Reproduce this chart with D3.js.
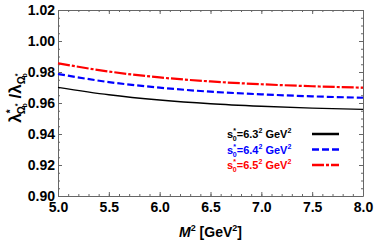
<!DOCTYPE html>
<html>
<head>
<meta charset="utf-8">
<script src="https://cdn.jsdelivr.net/npm/d3@7"></script>
<style>
  body { margin: 0; background: #fff; }
  text { font-family: "Liberation Sans", Arial, sans-serif; font-weight: bold; }
</style>
</head>
<body>
<div id="chart"></div>
<script>
// M^2 values (GeV^2)
var msq = [5.0, 5.5, 6.0, 6.5, 7.0, 7.5, 8.0];
// ratio for the three threshold choices
var ratio63 = [0.9701, 0.9653, 0.9619, 0.9595, 0.9579, 0.9567, 0.9559];
var ratio64 = [0.9787, 0.9735, 0.9699, 0.9673, 0.9656, 0.9643, 0.9634];
var ratio65 = [0.9856, 0.9803, 0.9765, 0.9739, 0.9721, 0.9708, 0.9699];
var seriesNames = ["6.3", "6.4", "6.5"];
var xTicks = [5.0, 5.5, 6.0, 6.5, 7.0, 7.5, 8.0];
var yTicks = [0.90, 0.92, 0.94, 0.96, 0.98, 1.00, 1.02];

var width = 374, height = 241;
var margin = {top: 10, right: 11, bottom: 45, left: 58};

var svg = d3.select("#chart").append("svg")
    .attr("width", width)
    .attr("height", height);

var x = d3.scaleLinear().domain([5, 8]).range([margin.left, width - margin.right]);
var y = d3.scaleLinear().domain([0.90, 1.02]).range([height - margin.bottom, margin.top]);

var frameColor = "#666";

// minor ticks, all four sides
var xMinor = d3.range(5.0, 8.001, 0.1);
var yMinor = d3.range(0.90, 1.0201, 0.005);
function minorAxis(axis, vals, tr) {
    var g = svg.append("g").attr("transform", tr)
        .call(axis.tickValues(vals).tickSize(-2).tickFormat(""));
    g.select(".domain").remove();
    g.selectAll("line").attr("stroke", frameColor);
}
minorAxis(d3.axisBottom(x), xMinor, "translate(0," + y(0.90) + ")");
minorAxis(d3.axisTop(x), xMinor, "translate(0," + y(1.02) + ")");
minorAxis(d3.axisLeft(y), yMinor, "translate(" + x(5) + ",0)");
minorAxis(d3.axisRight(y), yMinor, "translate(" + x(8) + ",0)");

// major ticks
var gx = svg.append("g").attr("transform", "translate(0," + y(0.90) + ")")
    .call(d3.axisBottom(x).tickValues(xTicks).tickSizeInner(-4).tickSizeOuter(0)
        .tickPadding(6).tickFormat(d3.format(".1f")));
gx.selectAll("text").attr("font-size", 14).attr("fill", "#000")
    .attr("font-family", "Liberation Sans, Arial, sans-serif").attr("font-weight", "bold");

var gy = svg.append("g").attr("transform", "translate(" + x(5) + ",0)")
    .call(d3.axisLeft(y).tickValues(yTicks).tickSizeInner(-4).tickSizeOuter(0)
        .tickPadding(3).tickFormat(d3.format(".2f")));
gy.selectAll("text").attr("font-size", 14).attr("fill", "#000")
    .attr("font-family", "Liberation Sans, Arial, sans-serif").attr("font-weight", "bold");

var gx2 = svg.append("g").attr("transform", "translate(0," + y(1.02) + ")")
    .call(d3.axisTop(x).tickValues(xTicks).tickSizeInner(-4).tickSizeOuter(0).tickFormat(""));
var gy2 = svg.append("g").attr("transform", "translate(" + x(8) + ",0)")
    .call(d3.axisRight(y).tickValues(yTicks).tickSizeInner(-4).tickSizeOuter(0).tickFormat(""));

[gx, gy, gx2, gy2].forEach(function (g) {
    g.selectAll("line").attr("stroke", frameColor);
    g.select(".domain").attr("stroke", frameColor);
});

// curves
var series = [
    {vals: ratio63, color: "#000", dash: null, w: 1.4},
    {vals: ratio64, color: "#0000ff", dash: "7,3", w: 2.2},
    {vals: ratio65, color: "#ff0000", dash: "12,2,3,2", w: 2.2}
];
var line = d3.line()
    .x(function (d, i) { return x(msq[i]); })
    .y(function (d) { return y(d); })
    .curve(d3.curveMonotoneX);

series.forEach(function (s) {
    svg.append("path")
        .attr("d", line(s.vals))
        .attr("fill", "none")
        .attr("stroke", s.color)
        .attr("stroke-width", s.w)
        .attr("stroke-dasharray", s.dash);
});

// legend
series.forEach(function (s, i) {
    var ly = 134 + i * 15.5;
    var t = svg.append("text").attr("x", 227).attr("y", ly + 4)
        .attr("font-size", 11).attr("fill", s.color);
    t.append("tspan").text("s");
    t.append("tspan").attr("font-size", 7).attr("dy", -5).text("*");
    t.append("tspan").attr("font-size", 7).attr("dx", -3).attr("dy", 8).text("0");
    t.append("tspan").attr("dy", -3).text("=" + seriesNames[i]);
    t.append("tspan").attr("font-size", 7).attr("dy", -5).text("2");
    t.append("tspan").attr("dy", 5).text(" GeV");
    t.append("tspan").attr("font-size", 7).attr("dy", -5).text("2");
    svg.append("line")
        .attr("x1", 312).attr("x2", 339).attr("y1", ly).attr("y2", ly)
        .attr("stroke", s.color).attr("stroke-width", 2.5)
        .attr("stroke-dasharray", s.dash);
});

// x axis title
var xt = svg.append("text")
    .attr("x", (x(5) + x(8)) / 2).attr("y", 237)
    .attr("text-anchor", "middle").attr("font-size", 14);
xt.append("tspan").attr("font-style", "italic").text("M");
xt.append("tspan").attr("font-size", 9).attr("dy", -6).text("2");
xt.append("tspan").attr("dy", 6).text(" [GeV");
xt.append("tspan").attr("font-size", 9).attr("dy", -6).text("2");
xt.append("tspan").attr("dy", 6).text("]");

// y axis title
var yt = svg.append("text")
    .attr("transform", "translate(21,98) rotate(-90)")
    .attr("text-anchor", "middle").attr("font-size", 17);
yt.append("tspan").text("λ");
yt.append("tspan").attr("font-size", 10).attr("dy", -7).text("*");
yt.append("tspan").attr("font-size", 10).attr("dx", -5).attr("dy", 11).text("Ω");
yt.append("tspan").attr("font-size", 7).attr("dy", -5).text("*");
yt.append("tspan").attr("font-size", 7).attr("dx", -4).attr("dy", 7).text("b");
yt.append("tspan").attr("dy", -6).text(" /λ");
yt.append("tspan").attr("font-size", 10).attr("dy", 4).text("Ω");
yt.append("tspan").attr("font-size", 7).attr("dy", -5).text("*");
yt.append("tspan").attr("font-size", 7).attr("dx", -4).attr("dy", 7).text("b");
</script>
</body>
</html>
